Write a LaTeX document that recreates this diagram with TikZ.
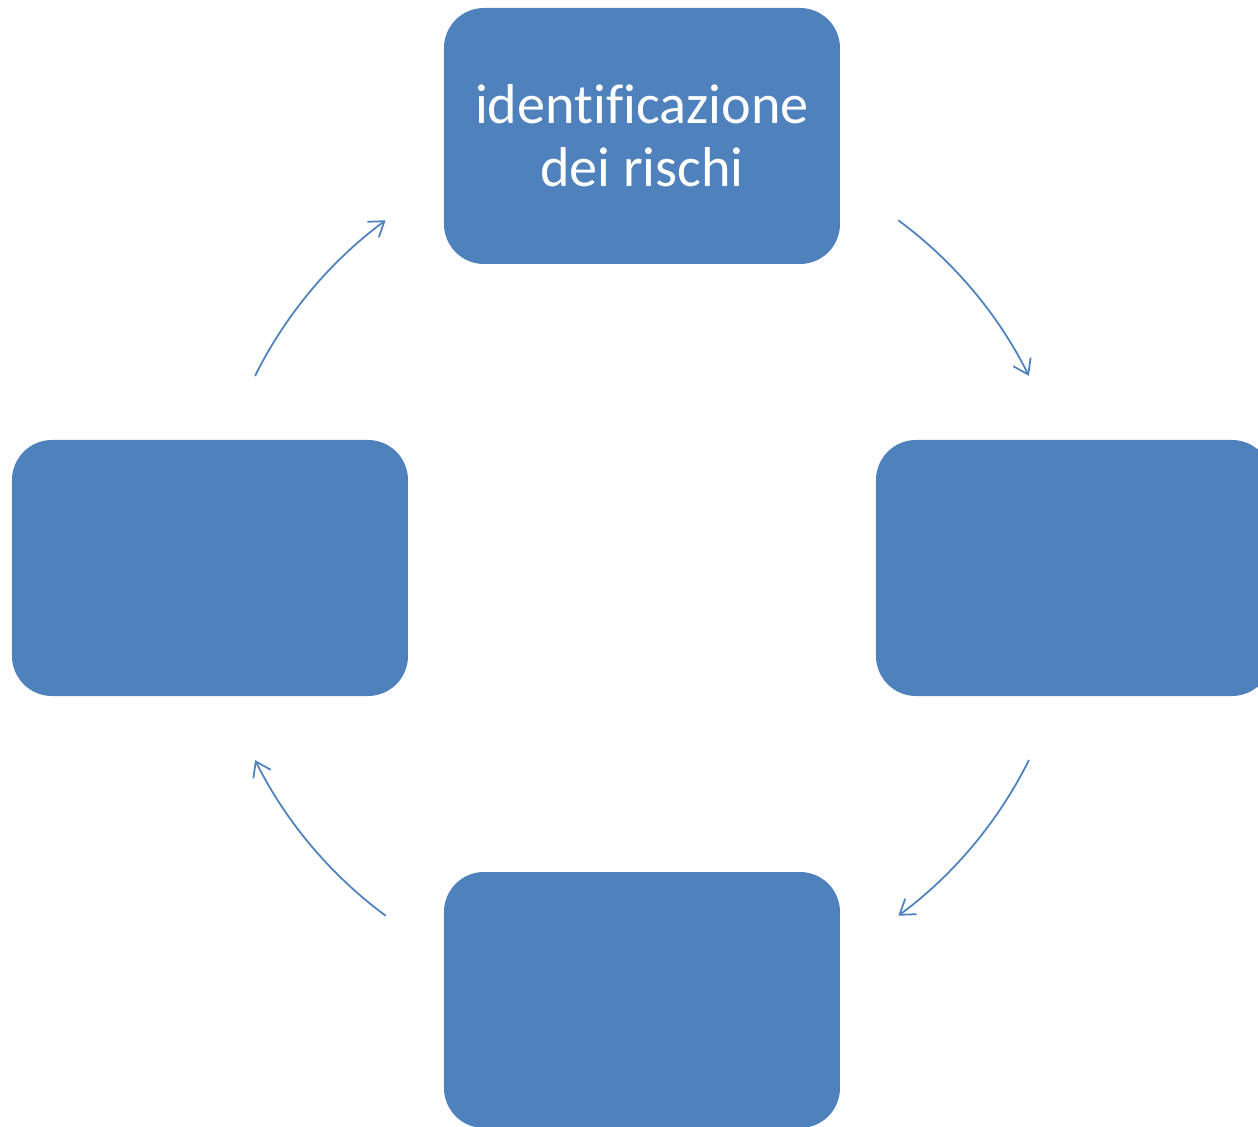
\documentclass[tikz,border=0pt]{standalone}
\usepackage{fontspec}
\setmainfont{Carlito}[Ligatures=NoCommon]
\usetikzlibrary{arrows.meta}
\definecolor{boxblue}{HTML}{4F81BD}
\newlength{\lw}
\setlength{\lw}{1pt}
\tikzstyle{every picture}+=[>={Straight Barb[length=8pt,width=11pt]}]
\tikzstyle{every picture}+=[line width=\lw]
\tikzstyle{every picture}+=[node distance=8.64cm]
\tikzstyle{phase}+=[fill=boxblue, draw=none, rounded corners=0.8cm]
\tikzstyle{phase}+=[minimum width=7.92cm, minimum height=5.12cm]
\tikzstyle{phase}+=[text=white, align=center, font=\fontsize{32}{36}\selectfont]
\tikzstyle{invis}=[draw=none,inner sep=0pt,minimum height=0pt]
\tikzstyle{flow}=[bend left=13.6, looseness=0.86]

\begin{document}
\begin{tikzpicture}
\useasboundingbox (-12.84,-11.18) rectangle (12.32,11.36);
\node[invis] (z) {};
\node[phase] (ident) [above of=z] {identificazione\\dei rischi};
\node[phase] (east) [right of=z] {};
\node[phase] (south) [below of=z] {};
\node[phase] (west) [left of=z] {};

% ends of the arcs, on a circle round z
\coordinate (a1) at (53.6:8.64);
\coordinate (a2) at (26.4:8.64);
\coordinate (b1) at (-26.4:8.64);
\coordinate (b2) at (-53.6:8.64);
\coordinate (c1) at (233.6:8.64);
\coordinate (c2) at (206.4:8.64);
\coordinate (d1) at (153.6:8.64);
\coordinate (d2) at (126.4:8.64);

\path[->, color=boxblue]
   (a1) edge[flow] (a2)
   (b1) edge[flow] (b2)
   (c1) edge[flow] (c2)
   (d1) edge[flow] (d2)
;
\end{tikzpicture}
\end{document}
